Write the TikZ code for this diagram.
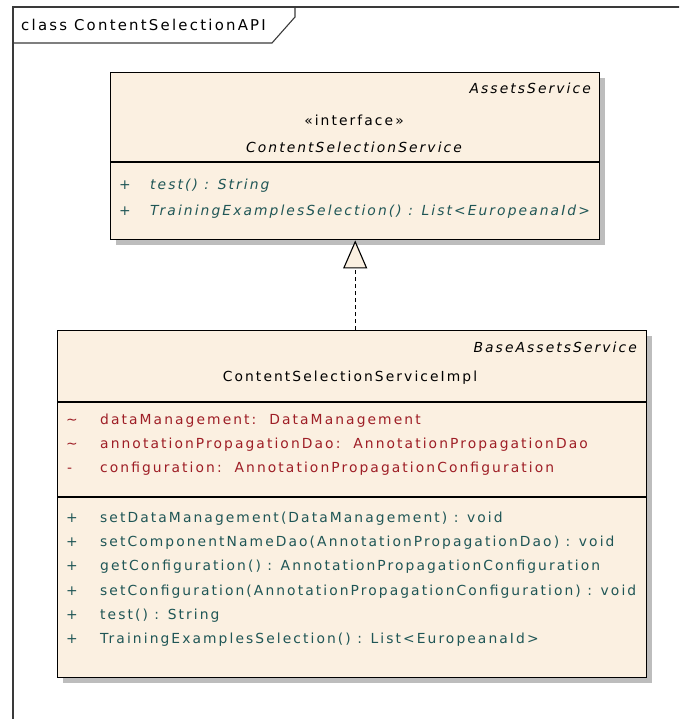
\documentclass[tikz,border=0pt]{standalone}
\usepackage{fontspec}
\setmainfont{DejaVu Sans}[LetterSpace=15]
\usetikzlibrary{arrows.meta,shadows}
\definecolor{beige}{HTML}{FBF0E1}
\definecolor{attrred}{HTML}{9E1E26}
\definecolor{opteal}{HTML}{1F5656}
\definecolor{shadowgray}{HTML}{BDBDBD}
\definecolor{framegray}{HTML}{3A3A3A}
\tikzset{
  umlbox/.style={draw=black, line width=1.4pt, fill=beige, anchor=north west, inner sep=0pt,
    drop shadow={shadow xshift=5pt, shadow yshift=-5pt, fill=shadowgray, opacity=1}},
  sepline/.style={draw=black, line width=1.1pt},
  txt/.style={inner sep=0pt, font=\fontsize{13.85}{16}\selectfont},
  itxt/.style={inner sep=0pt, font=\fontsize{13.85}{16}\selectfont\itshape},
  attr/.style={txt, text=attrred, anchor=base west},
  oper/.style={txt, text=opteal, anchor=base west},
  ioper/.style={itxt, text=opteal, anchor=base west},
  framestyle/.style={draw=framegray, line width=1.3pt},
}
\begin{document}
\begin{tikzpicture}[x=1pt, y=-1pt]
\useasboundingbox (0,0) rectangle (679,719);
\clip (0,0) rectangle (679,719);
% frame
\draw[framestyle] (13,730) -- (13,7) -- (700,7);
\draw[draw=framegray, line width=1.1pt] (13,43) -- (272,43) -- (295,17) -- (295,7);
\node[inner sep=0pt, anchor=base west, font=\fontsize{14.9}{17}\selectfont] (framelabel) at (21,30.5) {class ContentSelectionAPI};

% interface box
\node[umlbox, minimum width=489pt, minimum height=167pt] (iface) at (110,72) {};
\draw[sepline] (110,162) -- (599,162);
\node[itxt, anchor=base east] (ifparent) at (591,94) {AssetsService};
\node[txt, anchor=base] (ifstereo) at (354,126) {«interface»};
\node[itxt, anchor=base] (ifname) at (354,153) {ContentSelectionService};
\node[ioper] (ifop1s) at (119,190) {+};
\node[ioper] (ifop1) at (150,190) {test() : String};
\node[ioper] (ifop2s) at (119,215) {+};
\node[ioper] (ifop2) at (150,215) {TrainingExamplesSelection() : List<EuropeanaId>};

% implementation box
\node[umlbox, minimum width=589pt, minimum height=347pt] (impl) at (57,330) {};
\draw[sepline] (57,402) -- (646,402);
\draw[sepline] (57,497) -- (646,497);
\node[itxt, anchor=base east] (implparent) at (637,352) {BaseAssetsService};
\node[txt, anchor=base] (implname) at (350,381) {ContentSelectionServiceImpl};

\node[attr] (a1s) at (66,424) {\char"007E};
\node[attr] (a1) at (100,424) {dataManagement:\ \ DataManagement};
\node[attr] (a2s) at (66,448) {\char"007E};
\node[attr] (a2) at (100,448) {annotationPropagationDao:\ \ AnnotationPropagationDao};
\node[attr] (a3s) at (67,472) {-};
\node[attr] (a3) at (100,472) {configuration:\ \ AnnotationPropagationConfiguration};

\node[oper] (o1s) at (66,522) {+};
\node[oper] (o1) at (100,522) {setDataManagement(DataManagement) : void};
\node[oper] (o2s) at (66,546) {+};
\node[oper] (o2) at (100,546) {setComponentNameDao(AnnotationPropagationDao) : void};
\node[oper] (o3s) at (66,570) {+};
\node[oper] (o3) at (100,570) {getConfiguration() : AnnotationPropagationConfiguration};
\node[oper] (o4s) at (66,595) {+};
\node[oper] (o4) at (100,595) {setConfiguration(AnnotationPropagationConfiguration) : void};
\node[oper] (o5s) at (66,619) {+};
\node[oper] (o5) at (100,619) {test() : String};
\node[oper] (o6s) at (66,643) {+};
\node[oper] (o6) at (100,643) {TrainingExamplesSelection() : List<EuropeanaId>};

% realization
\draw[line width=1.1pt, dash pattern=on 4pt off 3pt,
  -{Triangle[length=28pt, width=24pt, fill=beige, line width=1.1pt]}]
  (impl.north -| iface.south) -- (iface.south);
\end{tikzpicture}
\end{document}
